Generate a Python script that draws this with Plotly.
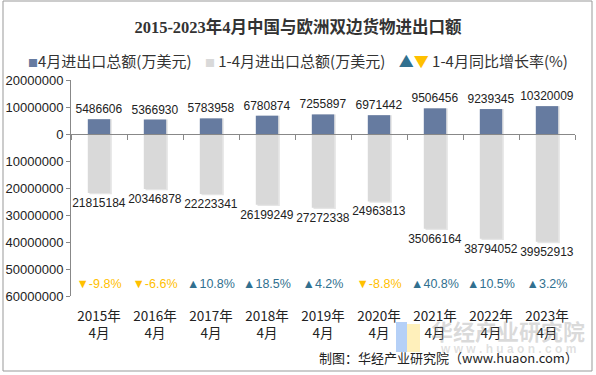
import plotly.graph_objects as go

categories = ["2015年<br>4月", "2016年<br>4月", "2017年<br>4月", "2018年<br>4月", "2019年<br>4月",
              "2020年<br>4月", "2021年<br>4月", "2022年<br>4月", "2023年<br>4月"]
april_total = [5486606, 5366930, 5783958, 6780874, 7255897, 6971442, 9506456, 9239345, 10320009]
jan_apr_total = [21815184, 20346878, 22223341, 26199249, 27272338, 24963813, 35066164, 38794052, 39952913]
growth_rate = [-9.8, -6.6, 10.8, 18.5, 4.2, -8.8, 40.8, 10.5, 3.2]
y_ticks = [20000000, 10000000, 0, -10000000, -20000000, -30000000, -40000000, -50000000, -60000000]

BLUE = "#667BA0"
GRAY = "#D9D9D9"
UP = "#31708F"
DOWN = "#FFC000"
NUM_FONT = "Liberation Sans, Arial, Noto Sans CJK SC"
CJK_FONT = "Noto Sans CJK SC, Liberation Sans"

neg_total = [-v for v in jan_apr_total]
growth_pos = [-56000000] * len(categories)
growth_text = [("▲" if g >= 0 else "▼") + f"{g:.1f}%" for g in growth_rate]
growth_color = [UP if g >= 0 else DOWN for g in growth_rate]

fig = go.Figure()

# shadows
fig.add_trace(go.Bar(x=categories, y=april_total, marker=dict(color="rgba(0,0,0,0.10)", line=dict(width=0)),
                     width=0.4, offset=-0.17, showlegend=False, hoverinfo="skip"))
fig.add_trace(go.Bar(x=categories, y=[v - 500000 for v in neg_total], marker=dict(color="rgba(0,0,0,0.10)", line=dict(width=0)),
                     width=0.4, offset=-0.17, showlegend=False, hoverinfo="skip"))

fig.add_trace(go.Bar(x=categories, y=april_total, name="4月进出口总额(万美元)",
                     marker=dict(color=BLUE, line=dict(width=0)), width=0.4, offset=-0.2,
                     text=[str(v) for v in april_total], textposition="outside", cliponaxis=False,
                     constraintext="none", textangle=0,
                     textfont=dict(family=NUM_FONT, size=12, color="#222"), showlegend=False))
fig.add_trace(go.Bar(x=categories, y=neg_total, name="1-4月进出口总额(万美元)",
                     marker=dict(color=GRAY, line=dict(width=0)), width=0.4, offset=-0.2,
                     text=[str(v) for v in jan_apr_total], textposition="outside", cliponaxis=False,
                     constraintext="none", textangle=0,
                     textfont=dict(family=NUM_FONT, size=12, color="#222"), showlegend=False))
fig.add_trace(go.Scatter(x=categories, y=growth_pos, mode="text", text=growth_text,
                         textfont=dict(family=NUM_FONT, size=12.5, color=growth_color),
                         showlegend=False, cliponaxis=False))

# zero-line axis with boundary ticks
fig.add_trace(go.Scatter(x=categories, y=[0] * len(categories), xaxis="x2", mode="markers",
                         marker=dict(opacity=0), showlegend=False, hoverinfo="skip"))

fig.update_layout(
    width=596, height=375,
    margin=dict(l=71, r=21, t=80, b=79, autoexpand=False),
    paper_bgcolor="white", plot_bgcolor="white",
    barmode="overlay",
    title=dict(text="2015-2023年4月中国与欧洲双边货物进出口额", x=0.5, xanchor="center", y=0.927, yanchor="middle",
               font=dict(family="Liberation Serif, Noto Sans CJK SC", size=16.5, color="#333", weight="bold")),
    xaxis=dict(type="category", categoryarray=categories, range=[-0.5, 8.5], showline=False, ticks="",
               showgrid=False, automargin=False, tickfont=dict(family=CJK_FONT, size=13.5, color="#222"),
               ticklabelstandoff=10),
    xaxis2=dict(type="category", categoryarray=categories, range=[-0.5, 8.5], overlaying="x", anchor="free",
                position=0.75, showline=True, linecolor="#888", linewidth=1, ticks="outside", ticklen=5,
                tickcolor="#888", tickson="boundaries", showticklabels=False, showgrid=False, automargin=False),
    yaxis=dict(range=[-60000000, 20000000], tickvals=y_ticks, ticktext=[str(abs(v)) for v in y_ticks],
               showline=True, linecolor="#888", linewidth=1, ticks="outside", ticklen=4, tickcolor="#888",
               showgrid=False, zeroline=False, automargin=False,
               tickfont=dict(family=NUM_FONT, size=13, color="#222")),
    showlegend=False,
)

legend_text = (f"<span style='color:{BLUE};font-size:10px'>■</span>4月进出口总额(万美元)    "
               f"<span style='color:{GRAY};font-size:10px'>■</span> 1-4月进出口总额(万美元)    "
               f"<span style='color:{UP}'>▲</span><span style='color:{DOWN}'>▼</span> 1-4月同比增长率(%)")
fig.add_annotation(text=legend_text, xref="paper", yref="paper", x=(298 - 71) / 504, y=(296 - 60) / 216,
                   xanchor="center", yanchor="middle", showarrow=False,
                   font=dict(family=CJK_FONT, size=15, color="#333"))

# watermark
fig.add_annotation(text="华经产业研究院", xref="paper", yref="paper", x=(508 - 71) / 504, y=(296 - 330) / 216,
                   xanchor="center", yanchor="middle", showarrow=False,
                   font=dict(family=CJK_FONT, size=22, color="rgba(150,150,150,0.35)", weight="bold"))
fig.add_annotation(text="w w w . h u a o n . c o m", xref="paper", yref="paper", x=(508 - 71) / 504, y=(296 - 349) / 216,
                   xanchor="center", yanchor="middle", showarrow=False,
                   font=dict(family=NUM_FONT, size=12, color="rgba(150,150,150,0.3)", weight="bold"))
fig.add_shape(type="rect", xref="paper", yref="paper", x0=(396 - 71) / 504, x1=(407 - 71) / 504,
              y0=(296 - 352) / 216, y1=(296 - 322) / 216, fillcolor="rgba(120,170,240,0.55)", line=dict(width=0))
fig.add_shape(type="rect", xref="paper", yref="paper", x0=(407 - 71) / 504, x1=(420 - 71) / 504,
              y0=(296 - 352) / 216, y1=(296 - 324) / 216, fillcolor="rgba(255,225,120,0.5)", line=dict(width=0))

fig.add_annotation(text="制图：华经产业研究院（www.huaon.com）", xref="paper", yref="paper",
                   x=(580 - 71) / 504, y=(296 - 357) / 216, xanchor="right", yanchor="middle", showarrow=False,
                   font=dict(family=CJK_FONT, size=13, color="#222"))

# outer border
fig.add_shape(type="rect", xref="paper", yref="paper", x0=(3 - 71) / 504, x1=(592 - 71) / 504,
              y0=(296 - 371) / 216, y1=(296 - 1) / 216, line=dict(color="#999", width=1), fillcolor="rgba(0,0,0,0)",
              layer="below")

fig.write_html("out.html", config={"displayModeBar": False},
               post_script="document.body.style.margin='0';document.body.style.overflow='hidden';")
